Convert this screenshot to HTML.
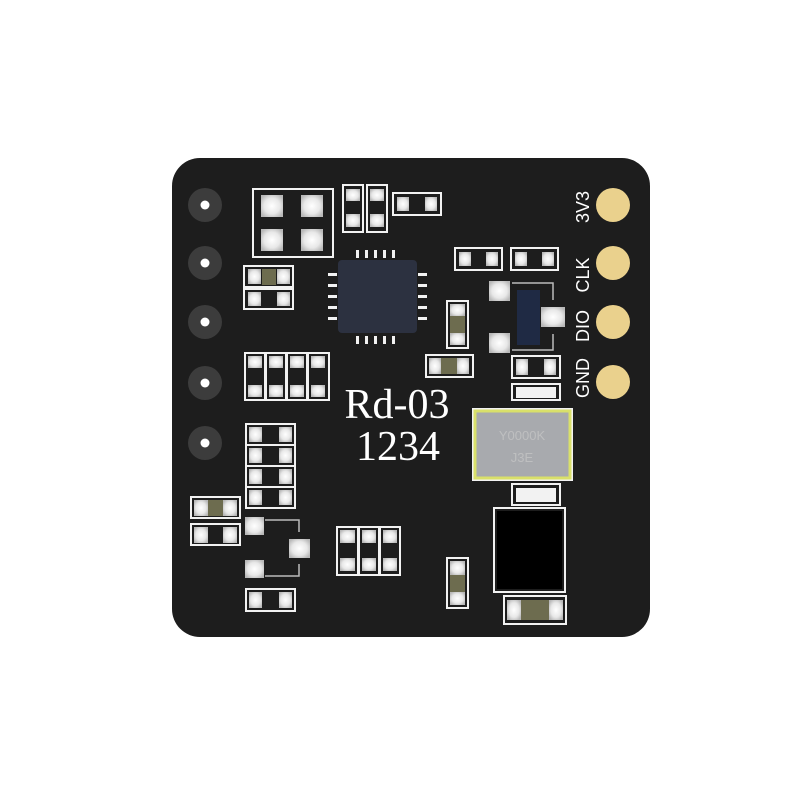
<!DOCTYPE html>
<html><head><style>html,body{margin:0;padding:0;background:#fff;}svg{display:block}</style></head>
<body>
<svg width="800" height="800" viewBox="0 0 800 800" xmlns="http://www.w3.org/2000/svg">
<defs>
<radialGradient id="pad" cx="50%" cy="50%" r="60%"><stop offset="0" stop-color="#ffffff"/><stop offset="0.6" stop-color="#e8e8e8"/><stop offset="1" stop-color="#b8b8b8"/></radialGradient>
</defs>
<rect x="172" y="158" width="478" height="479" rx="28" fill="#1d1d1d"/>
<g fill="#3c3c3c"><circle cx="205" cy="205" r="17"/><circle cx="205" cy="263" r="17"/><circle cx="205" cy="322" r="17"/><circle cx="205" cy="383" r="17"/><circle cx="205" cy="443" r="17"/></g>
<g fill="#fff"><circle cx="205" cy="205" r="4.5"/><circle cx="205" cy="263" r="4.5"/><circle cx="205" cy="322" r="4.5"/><circle cx="205" cy="383" r="4.5"/><circle cx="205" cy="443" r="4.5"/></g>
<g fill="#ead18d"><circle cx="613" cy="205" r="17"/><circle cx="613" cy="263" r="17"/><circle cx="613" cy="322" r="17"/><circle cx="613" cy="382" r="17"/></g>
<g fill="#fff" font-family="Liberation Sans, sans-serif" font-size="18" text-anchor="middle">
<text transform="translate(589,207) rotate(-90)">3V3</text>
<text transform="translate(589,275) rotate(-90)">CLK</text>
<text transform="translate(589,326) rotate(-90)">DIO</text>
<text transform="translate(589,378) rotate(-90)">GND</text>
</g>
<g fill="none" stroke="#f2f2f2" stroke-width="2">
<rect x="253" y="189" width="80" height="68"/>
<rect x="343" y="185" width="20" height="47"/><rect x="367" y="185" width="20" height="47"/>
<rect x="393" y="193" width="48" height="22"/>
<rect x="244" y="266" width="49" height="21"/><rect x="244" y="289" width="49" height="20"/>
<rect x="245" y="353" width="20" height="47"/><rect x="266" y="353" width="20" height="47"/><rect x="287" y="353" width="20" height="47"/><rect x="308" y="353" width="21" height="47"/>
<rect x="455" y="248" width="47" height="22"/><rect x="511" y="248" width="47" height="22"/>
<rect x="447" y="301" width="21" height="47"/>
<rect x="426" y="355" width="47" height="22"/>
<rect x="512" y="356" width="48" height="22"/><rect x="512" y="384" width="48" height="16"/>
<rect x="246" y="424" width="49" height="21"/><rect x="246" y="445" width="49" height="21"/><rect x="246" y="466" width="49" height="21"/><rect x="246" y="487" width="49" height="21"/>
<rect x="191" y="497" width="49" height="21"/><rect x="191" y="524" width="49" height="21"/>
<rect x="337" y="527" width="21" height="48"/><rect x="359" y="527" width="20" height="48"/><rect x="380" y="527" width="20" height="48"/>
<rect x="447" y="558" width="21" height="50"/>
<rect x="246" y="589" width="49" height="22"/>
<rect x="512" y="484" width="48" height="21"/>
<rect x="494" y="508" width="71" height="84"/>
<rect x="504" y="596" width="62" height="28"/>
<rect x="473" y="409" width="99" height="71"/>
<path d="M265 520 H299 V532 M265 576 H299 V564" stroke="#bbb" stroke-width="1.5"/>
<path d="M512 283 H553 V300 M512 350 H553 V334" stroke="#bbb" stroke-width="1.5"/>
</g>
<rect x="475" y="411" width="95" height="67" fill="#a8aaae" stroke="#d9e06a" stroke-width="3"/>
<text x="522" y="440" font-family="Liberation Sans, sans-serif" font-size="13" fill="#c8c8c8" text-anchor="middle" opacity="0.7">Y0000K</text>
<text x="522" y="462" font-family="Liberation Sans, sans-serif" font-size="13" fill="#c8c8c8" text-anchor="middle" opacity="0.7">J3E</text>
<rect x="497" y="511" width="65" height="78" fill="#000"/>
<rect x="516" y="387" width="40" height="11" fill="#f2f2f2"/>
<rect x="516" y="488" width="40" height="14" fill="#f2f2f2"/>
<g fill="#6d6c4f">
<rect x="262" y="269" width="14" height="16"/><rect x="450" y="316" width="15" height="17"/><rect x="441" y="358" width="16" height="16"/><rect x="208" y="500" width="15" height="16"/><rect x="450" y="575" width="15" height="17"/><rect x="521" y="600" width="28" height="20"/>
</g>
<rect x="338" y="260" width="79" height="73" rx="4" fill="#2c3140"/>
<rect x="517" y="290" width="23" height="55" fill="#1f2a44"/>
<g fill="#f2f2f2">
<rect x="356" y="250" width="3" height="8"/><rect x="365" y="250" width="3" height="8"/><rect x="374" y="250" width="3" height="8"/><rect x="383" y="250" width="3" height="8"/><rect x="392" y="250" width="3" height="8"/>
<rect x="356" y="336" width="3" height="8"/><rect x="365" y="336" width="3" height="8"/><rect x="374" y="336" width="3" height="8"/><rect x="383" y="336" width="3" height="8"/><rect x="392" y="336" width="3" height="8"/>
<rect x="328" y="273" width="9" height="3"/><rect x="328" y="284" width="9" height="3"/><rect x="328" y="295" width="9" height="3"/><rect x="328" y="306" width="9" height="3"/><rect x="328" y="317" width="9" height="3"/>
<rect x="418" y="273" width="9" height="3"/><rect x="418" y="284" width="9" height="3"/><rect x="418" y="295" width="9" height="3"/><rect x="418" y="306" width="9" height="3"/><rect x="418" y="317" width="9" height="3"/>
</g>
<g fill="url(#pad)">
<rect x="261" y="195" width="22" height="22"/><rect x="301" y="195" width="22" height="22"/><rect x="261" y="229" width="22" height="22"/><rect x="301" y="229" width="22" height="22"/>
<rect x="346" y="189" width="14" height="12"/><rect x="346" y="214" width="14" height="13"/><rect x="370" y="189" width="14" height="12"/><rect x="370" y="214" width="14" height="13"/>
<rect x="397" y="197" width="12" height="14"/><rect x="425" y="197" width="12" height="14"/>
<rect x="248" y="269" width="13" height="15"/><rect x="277" y="269" width="13" height="15"/><rect x="248" y="292" width="13" height="14"/><rect x="277" y="292" width="13" height="14"/>
<rect x="248" y="356" width="14" height="12"/><rect x="248" y="385" width="14" height="12"/><rect x="269" y="356" width="14" height="12"/><rect x="269" y="385" width="14" height="12"/><rect x="290" y="356" width="14" height="12"/><rect x="290" y="385" width="14" height="12"/><rect x="311" y="356" width="14" height="12"/><rect x="311" y="385" width="14" height="12"/>
<rect x="459" y="252" width="12" height="14"/><rect x="486" y="252" width="12" height="14"/><rect x="515" y="252" width="12" height="14"/><rect x="542" y="252" width="12" height="14"/>
<rect x="489" y="281" width="21" height="20"/><rect x="489" y="333" width="21" height="20"/><rect x="541" y="307" width="24" height="20"/>
<rect x="450" y="304" width="15" height="12"/><rect x="450" y="333" width="15" height="12"/>
<rect x="429" y="358" width="12" height="16"/><rect x="457" y="358" width="12" height="16"/>
<rect x="516" y="359" width="12" height="16"/><rect x="544" y="359" width="12" height="16"/>
<rect x="249" y="427" width="13" height="15"/><rect x="279" y="427" width="13" height="15"/><rect x="249" y="448" width="13" height="15"/><rect x="279" y="448" width="13" height="15"/><rect x="249" y="469" width="13" height="15"/><rect x="279" y="469" width="13" height="15"/><rect x="249" y="490" width="13" height="15"/><rect x="279" y="490" width="13" height="15"/>
<rect x="194" y="500" width="14" height="16"/><rect x="223" y="500" width="14" height="16"/><rect x="194" y="527" width="14" height="16"/><rect x="223" y="527" width="14" height="16"/>
<rect x="245" y="517" width="19" height="18"/><rect x="245" y="560" width="19" height="18"/><rect x="289" y="539" width="21" height="19"/>
<rect x="340" y="530" width="15" height="13"/><rect x="340" y="558" width="15" height="13"/><rect x="362" y="530" width="14" height="13"/><rect x="362" y="558" width="14" height="13"/><rect x="383" y="530" width="14" height="13"/><rect x="383" y="558" width="14" height="13"/>
<rect x="450" y="561" width="15" height="14"/><rect x="450" y="592" width="15" height="13"/>
<rect x="249" y="592" width="13" height="16"/><rect x="279" y="592" width="13" height="16"/>
<rect x="507" y="600" width="14" height="20"/><rect x="549" y="600" width="14" height="20"/>
</g>
<g fill="#fff" font-family="Liberation Serif, serif" font-size="42" text-anchor="middle">
<text x="397" y="418">Rd-03</text>
<text x="398" y="460">1234</text>
</g>
</svg>
</body></html>
